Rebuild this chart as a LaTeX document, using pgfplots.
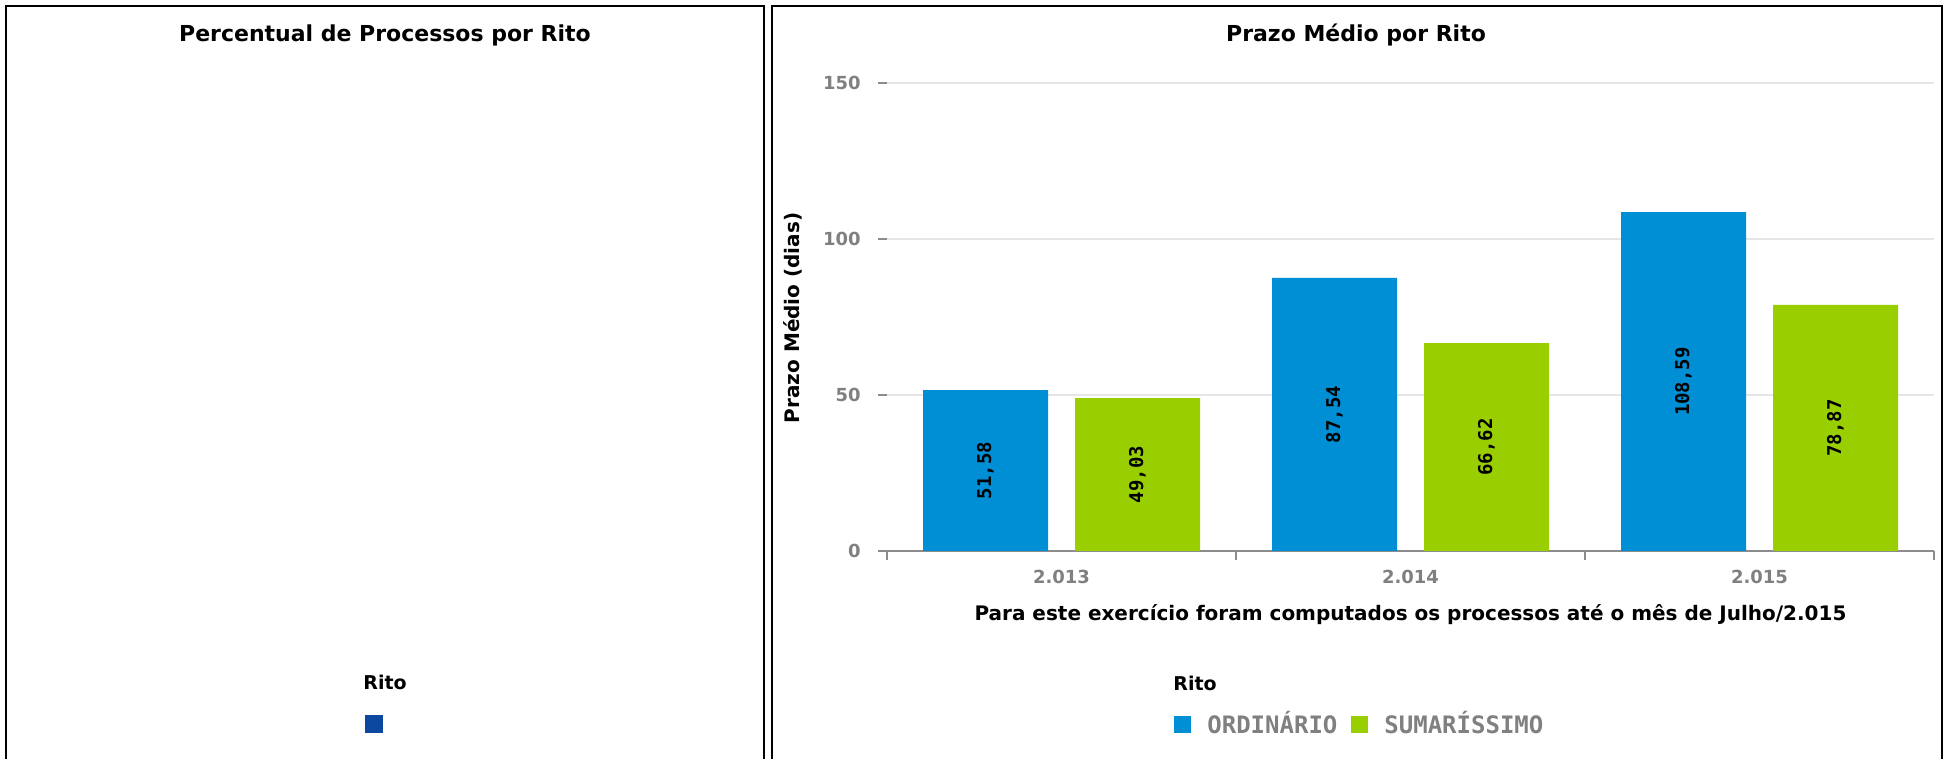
\documentclass[border=0pt]{standalone}
\usepackage{pgfplots}
\pgfplotsset{compat=1.18}
\usepackage{pgfplotstable}
\usepackage{fontspec}
\setmainfont{DejaVu Sans}
\newfontfamily\dvmono{DejaVu Sans Mono}
\definecolor{ordblue}{RGB}{0,142,213}
\definecolor{sumgreen}{RGB}{153,207,0}
\definecolor{leftblue}{RGB}{13,72,160}
\definecolor{tickgray}{RGB}{128,128,128}
\definecolor{axgray}{RGB}{140,140,140}
\definecolor{gridgray}{RGB}{230,230,230}

\pgfplotstableread{
x ord sum ordlbl sumlbl
0 51.58 49.03 51,58 49,03
1 87.54 66.62 87,54 66,62
2 108.59 78.87 108,59 78,87
}\datatable

\begin{document}
\begin{tikzpicture}
\path[use as bounding box] (0,0) rectangle (973pt,379.5pt);
% panel frames
\draw[line width=1pt] (3pt,0) -- (3pt,376.5pt) -- (382pt,376.5pt) -- (382pt,0);
\draw[line width=1pt] (386pt,0) -- (386pt,376.5pt) -- (971pt,376.5pt) -- (971pt,0);
% titles
\node[anchor=base, inner sep=0pt, font=\fontsize{11}{13}\selectfont\bfseries] at (192.5pt,358.5pt) {Percentual de Processos por Rito};
\node[anchor=base, inner sep=0pt, font=\fontsize{11}{13}\selectfont\bfseries] at (678pt,358.5pt) {Prazo Médio por Rito};
% legend titles
\node[anchor=base west, inner sep=0pt, font=\fontsize{9.5}{11}\selectfont\bfseries] at (181.5pt,34.5pt) {Rito};
\node[anchor=base west, inner sep=0pt, font=\fontsize{9.5}{11}\selectfont\bfseries] at (586.5pt,34pt) {Rito};

% left (empty) chart
\begin{axis}[
  hide axis, scale only axis,
  at={(3pt,0pt)}, anchor=south west,
  width=379pt, height=376pt,
  xmin=0, xmax=1, ymin=0, ymax=1,
  legend image code/.code={\fill[#1] (0pt,-4.5pt) rectangle (9pt,4.5pt);},
  legend style={at={(0.4736,0.0465)}, anchor=west, draw=none, fill=none, inner sep=0pt},
]
\addlegendimage{fill=leftblue, draw=none}
\addlegendentry{}
\end{axis}

% right chart
\begin{axis}[
  scale only axis,
  at={(443.5pt,104pt)}, anchor=south west,
  width=523.5pt, height=234pt,
  xmin=-0.5, xmax=2.5, ymin=0, ymax=150,
  axis x line*=bottom, axis y line*=left,
  x axis line style={draw=axgray, line width=1pt, -},
  y axis line style={draw=none},
  tick align=outside, major tick length=4.5pt,
  xtick={-0.5,0.5,1.5,2.5}, xticklabels={},
  extra x ticks={0,1,2}, extra x tick labels={2.013,2.014,2.015},
  extra x tick style={tick style={draw=none}},
  ytick={0,50,100,150},
  tick style={draw=axgray, line width=1pt},
  ymajorgrids, y grid style={draw=gridgray, line width=1pt},
  /pgf/number format/assume math mode=true,
  xticklabel style={font=\fontsize{9}{11}\selectfont\bfseries, text=tickgray, anchor=base, inner sep=0pt, yshift=-11.5pt},
  yticklabel style={font=\fontsize{9}{11}\selectfont\bfseries, text=tickgray, anchor=east, inner sep=0pt, xshift=-8.5pt},
  ylabel={Prazo Médio (dias)},
  ylabel style={at={(axis description cs:-0.0898,0.498)}, anchor=center, font=\fontsize{10}{12}\selectfont\bfseries},
  xlabel={Para este exercício foram computados os processos até o mês de Julho/2.015},
  xlabel style={at={(axis description cs:0.5,-0.135)}, anchor=center, font=\fontsize{10}{12}\selectfont\bfseries},
  legend columns=2,
  legend image code/.code={\fill[#1] (0pt,-4.25pt) rectangle (8.5pt,4.25pt);},
  legend style={at={(0.2741,-0.37)}, anchor=west, draw=none, fill=none, inner sep=0pt,
    font=\dvmono\fontsize{12}{14}\selectfont\bfseries, text=tickgray,
    /tikz/every odd column/.append style={column sep=6pt},
    /tikz/every even column/.append style={column sep=5pt}},
]
\addplot[ybar, bar width=62.5pt, bar shift=-38pt, fill=ordblue, draw=none, forget plot,
  nodes near coords, point meta=explicit symbolic,
  visualization depends on={\thisrow{ord} \as \rawy},
  every node near coord/.append style={anchor=center, xshift=-38pt, shift={(axis direction cs:0,-\rawy/2)}, rotate=90,
    font=\dvmono\fontsize{9.5}{11}\selectfont\bfseries, text=black}]
  table[x=x, y=ord, meta=ordlbl] {\datatable};
\addplot[ybar, bar width=62.5pt, bar shift=38pt, fill=sumgreen, draw=none, forget plot,
  nodes near coords, point meta=explicit symbolic,
  visualization depends on={\thisrow{sum} \as \rawy},
  every node near coord/.append style={anchor=center, xshift=38pt, shift={(axis direction cs:0,-\rawy/2)}, rotate=90,
    font=\dvmono\fontsize{9.5}{11}\selectfont\bfseries, text=black}]
  table[x=x, y=sum, meta=sumlbl] {\datatable};
\addlegendimage{fill=ordblue, draw=none}
\addlegendentry{ORDINÁRIO}
\addlegendimage{fill=sumgreen, draw=none}
\addlegendentry{SUMARÍSSIMO}
\end{axis}
\end{tikzpicture}
\end{document}
